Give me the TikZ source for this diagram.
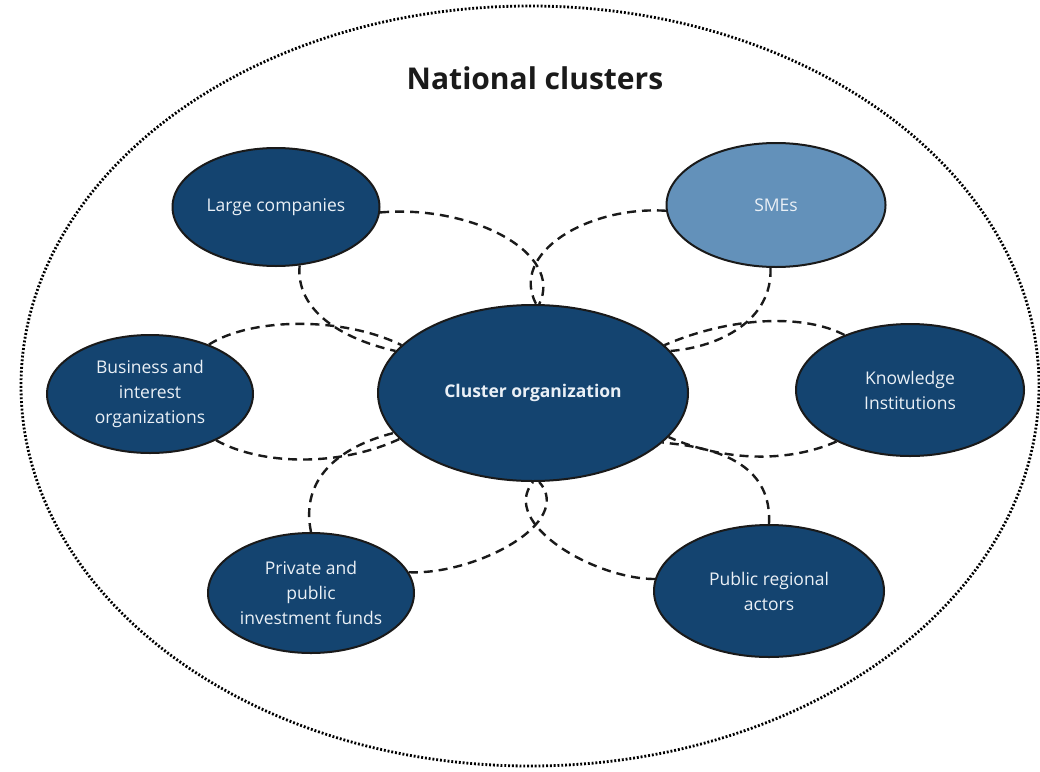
\documentclass[tikz,border=0pt]{standalone}
\usepackage{fontspec}
\setmainfont{Open Sans}
\usetikzlibrary{calc,shapes.geometric}
\definecolor{navy}{HTML}{144470}
\definecolor{smeblue}{HTML}{6391BA}
\definecolor{txt}{HTML}{EAF0F6}
\definecolor{ink}{HTML}{1A1A1A}
\begin{document}
\begin{tikzpicture}[x=1pt,y=-1pt,
  actor/.style={ellipse, draw=ink, line width=2pt, fill=navy, text=txt,
    inner sep=0pt, align=center, font=\fontsize{17.5}{25}\selectfont},
  link/.style={draw=ink, line width=2.4pt, dash pattern=on 9pt off 6pt},
  outer/.style={draw=black, line width=2.8pt, dash pattern=on 1.9pt off 1.9pt}]
\useasboundingbox (0,0) rectangle (1040,771);
\fill[white] (0,0) rectangle (1040,771);
\draw[outer] (530,386) ellipse [x radius=509, y radius=380];
\node[font=\fontsize{30}{36}\selectfont\bfseries, text=ink] (title) at (535,78) {National clusters};

\node[actor, minimum width=207pt, minimum height=118pt] (lc) at (276,207) {Large companies};
\node[actor, fill=smeblue, minimum width=219pt, minimum height=124pt] (sme) at (776,205) {SMEs};
\node[actor, minimum width=206pt, minimum height=118pt] (bus) at (150,394) {Business and\\interest\\organizations};
\node[actor, font=\fontsize{17.5}{25}\selectfont\bfseries, minimum width=310pt, minimum height=176pt] (c) at (533,393) {Cluster organization};
\node[actor, minimum width=228pt, minimum height=132pt] (kn) at (910,390) {Knowledge\\Institutions};
\node[actor, minimum width=206pt, minimum height=120pt] (pr) at (311,593) {Private and\\public\\investment funds};
\node[actor, minimum width=230pt, minimum height=132pt] (pub) at (769,591) {Public regional\\actors};

\draw[link] (lc.357) .. controls ($(lc.357)+(92,-8)$) and ($(c.86)+(25,-51)$) .. (c.86);
\draw[link] (sme.183) .. controls ($(sme.183)+(-78,-5)$) and ($(c.88)+(-27,-51)$) .. (c.88);
\draw[link] (lc.292) .. controls ($(lc.292)+(-4,45)$) and ($(c.163)+(-54,-12)$) .. (c.163);
\draw[link] (bus.40) .. controls ($(bus.40)+(42,-27)$) and ($(c.160)+(-59,-29)$) .. (c.160);
\draw[link] (sme.265) .. controls ($(sme.265)+(2,52)$) and ($(c.17)+(50,-4)$) .. (c.17);
\draw[link] (kn.140) .. controls ($(kn.140)+(-40,-21)$) and ($(c.20)+(67,-29)$) .. (c.20);
\draw[link] (bus.325) .. controls ($(bus.325)+(45,25)$) and ($(c.199)+(-60,28)$) .. (c.199);
\draw[link] (pr.90) .. controls ($(pr.90)+(-11,-53)$) and ($(c.196)+(-55,14)$) .. (c.196);
\draw[link] (pr.12) .. controls ($(pr.12)+(66,3)$) and ($(c.274)+(36,41)$) .. (c.274);
\draw[link] (pub.174) .. controls ($(pub.174)+(-61,0)$) and ($(c.270)+(-34,41)$) .. (c.270);
\draw[link] (kn.215) .. controls ($(kn.215)+(-47,21)$) and ($(c.342)+(57,25)$) .. (c.342);
\draw[link] (pub.90) .. controls ($(pub.90)+(3,-55)$) and ($(c.339)+(64,5)$) .. (c.339);
\end{tikzpicture}
\end{document}
